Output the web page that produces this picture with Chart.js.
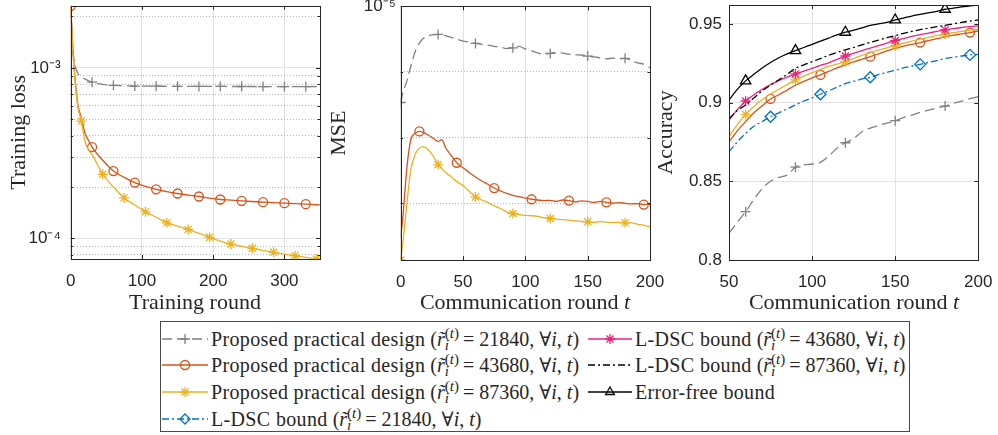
<!DOCTYPE html>
<html>
<head>
<meta charset="utf-8">
<script src="https://cdn.jsdelivr.net/npm/chart.js@4.4.1/dist/chart.umd.min.js"></script>
<style>
  body { margin: 0; background: #fff; width: 998px; height: 435px; overflow: hidden; position: relative;
         font-family: 'Liberation Serif', 'DejaVu Serif', serif; color: #262626; }
  canvas { position: absolute; top: 0; }
  .xt { position: absolute; top: 289px; font-size: 22px; line-height: 26px; transform: translateX(-50%); white-space: nowrap; }
  #legend { position: absolute; left: 160px; top: 321px; width: 750px; height: 111px; box-sizing: border-box;
            border: 1px solid #4a4a4a; background: #fff; }
  .item { position: absolute; height: 26px; line-height: 26px; font-size: 20px; white-space: nowrap; }
  .item svg { position: absolute; left: 0; top: 1px; }
  .item .txt { position: absolute; top: 0; }
  .item .nm { letter-spacing: 0.35px; }
  .ss { display: inline-flex; flex-direction: column; font-size: 15px; line-height: 12px; vertical-align: 8px; margin: 0 4px 0 0; }
</style>
</head>
<body>
<canvas id="lossChart" width="330" height="292" style="left:0px"></canvas>
<canvas id="mseChart" width="346" height="292" style="left:324px"></canvas>
<canvas id="accChart" width="348" height="292" style="left:650px"></canvas>
<div class="xt" style="left:195px">Training round</div>
<div class="xt" style="left:525px">Communication round <i>t</i></div>
<div class="xt" style="left:854px">Communication round <i>t</i></div>
<div id="legend"></div>

<script>
// ---- left panel: training loss (log scale) ----
const trainRounds = [0, 3, 6, 10, 15, 20, 25, 30, 45, 60, 75, 90, 105, 120, 135, 150, 165, 180, 195, 210,
                     225, 240, 255, 270, 285, 300, 315, 330, 345, 350];
const lossP21840 = [2.3e-3, 1.3e-3, 1.04e-3, 9.3e-4, 8.85e-4, 8.6e-4, 8.4e-4, 8.24e-4, 8.0e-4, 7.9e-4,
                    7.85e-4, 7.82e-4, 7.8e-4, 7.8e-4, 7.79e-4, 7.79e-4, 7.78e-4, 7.78e-4, 7.78e-4, 7.78e-4,
                    7.77e-4, 7.77e-4, 7.77e-4, 7.76e-4, 7.76e-4, 7.76e-4, 7.75e-4, 7.75e-4, 7.75e-4, 7.75e-4];
const lossP43680 = [2.3e-3, 1.3e-3, 8.8e-4, 6.1e-4, 5.1e-4, 4.15e-4, 3.75e-4, 3.43e-4, 2.87e-4, 2.48e-4,
                    2.28e-4, 2.125e-4, 2.02e-4, 1.94e-4, 1.88e-4, 1.833e-4, 1.795e-4, 1.76e-4, 1.72e-4, 1.69e-4,
                    1.675e-4, 1.66e-4, 1.645e-4, 1.63e-4, 1.62e-4, 1.608e-4, 1.598e-4, 1.587e-4, 1.575e-4, 1.572e-4];
const lossP87360 = [2.3e-3, 1.25e-3, 8.5e-4, 5.9e-4, 4.87e-4, 3.7e-4, 3.3e-4, 3.1e-4, 2.377e-4, 2.0e-4,
                    1.727e-4, 1.57e-4, 1.431e-4, 1.33e-4, 1.233e-4, 1.18e-4, 1.129e-4, 1.07e-4, 1.014e-4, 9.65e-5,
                    9.26e-5, 8.98e-5, 8.74e-5, 8.5e-5, 8.28e-5, 8.08e-5, 7.91e-5, 7.74e-5, 7.57e-5, 7.55e-5];
const lossXTicks = [0, 100, 200, 300];
const lossYTicks = [8e-5, 9e-5, 1e-4, 2e-4, 3e-4, 4e-4, 5e-4, 6e-4, 7e-4, 8e-4, 9e-4, 1e-3, 2e-3];
const lossYLabels = { '0.0001': '10⁻⁴', '0.001': '10⁻³' };

// ---- middle panel: MSE, values in units of 1e-6 ----
const mseRounds = [0, 2, 5, 8, 12, 15, 18, 22, 26, 30, 33, 36, 40, 45, 50, 55, 60, 65, 70, 75, 80, 85, 90, 95,
                   100, 105, 110, 115, 120, 125, 130, 135, 140, 145, 150, 155, 160, 165, 170, 175, 180, 185, 190, 195, 200];
const mseP21840 = [8.535, 8.7, 8.864, 9.08, 9.33, 9.44, 9.51, 9.55, 9.565, 9.571, 9.565, 9.555, 9.53, 9.5,
                   9.47, 9.455, 9.435, 9.42, 9.41, 9.39, 9.38, 9.356, 9.368, 9.39, 9.35, 9.32, 9.29, 9.27, 9.283,
                   9.3, 9.288, 9.27, 9.26, 9.258, 9.242, 9.23, 9.215, 9.2, 9.21, 9.2, 9.208, 9.17, 9.14, 9.12, 9.065];
const mseP43680 = [6.47, 6.85, 7.55, 7.96, 8.07, 8.095, 8.08, 8.04, 7.99, 7.94, 7.97, 7.85, 7.74, 7.617,
                   7.54, 7.47, 7.4, 7.34, 7.29, 7.232, 7.19, 7.15, 7.12, 7.1, 7.08, 7.061, 7.05, 7.04, 7.045,
                   7.03, 7.05, 7.041, 7.02, 7.035, 7.03, 7.015, 7.03, 7.015, 7.0, 7.01, 7.0, 6.99, 6.995, 6.98, 6.985];
const mseP87360 = [6.136, 6.44, 7.0, 7.5, 7.76, 7.84, 7.864, 7.82, 7.72, 7.586, 7.53, 7.47, 7.41, 7.33,
                   7.27, 7.18, 7.095, 7.05, 7.01, 6.96, 6.92, 6.87, 6.844, 6.83, 6.815, 6.81, 6.8, 6.78, 6.768,
                   6.76, 6.75, 6.742, 6.73, 6.725, 6.717, 6.71, 6.72, 6.712, 6.705, 6.71, 6.702, 6.7, 6.68, 6.665, 6.641];
const mseXTicks = [0, 50, 100, 150, 200];
const mseYTicks = [7, 8, 9, 10];
const mseYLabels = { '10': '10⁻⁵' };

// ---- right panel: accuracy ----
const accRounds = [50, 55, 60, 65, 70, 75, 80, 85, 90, 95, 100, 105, 110, 115, 120, 125, 130, 135, 140, 145,
                   150, 155, 160, 165, 170, 175, 180, 185, 190, 195, 200];
const accP21840 = [.8169, .824, .8307, .8385, .8455, .85, .8525, .854, .859, .8605, .861, .862, .866, .871, .8745,
                   .877, .8815, .8838, .8855, .887, .8885, .8905, .892, .8938, .8952, .8965, .8978, .8995, .901, .9025, .9038];
const accP43680 = [.8751, .882, .8879, .8935, .898, .9023, .905, .908, .911, .9135, .9157, .9176, .9198, .922, .924,
                   .9258, .9275, .9292, .931, .9328, .9345, .9358, .937, .9381, .9394, .9406, .9418, .9428, .9436, .9445, .9455];
const accP87360 = [.8783, .886, .8925, .8975, .902, .9055, .9085, .9115, .9144, .9168, .919, .921, .923, .9245, .926,
                   .928, .93, .9318, .9333, .9348, .9362, .9377, .939, .9403, .9415, .9425, .9434, .9444, .9452, .946, .9466];
const accB21840 = [.8688, .875, .8805, .885, .888, .891, .8935, .896, .8985, .901, .903, .9053, .9075, .9098, .912,
                   .9135, .915, .9161, .9178, .9192, .9205, .922, .9232, .9243, .9255, .9267, .928, .9288, .9296, .9303, .9306];
const accB43680 = [.889, .8955, .901, .905, .9085, .9115, .914, .9162, .9182, .92, .9218, .9236, .9253, .9275, .9296,
                   .9313, .933, .9346, .9362, .9378, .9394, .9407, .942, .9432, .9442, .9452, .9462, .947, .9477, .9482, .9487];
const accB87360 = [.8896, .895, .8985, .903, .9075, .911, .9145, .918, .9218, .924, .926, .928, .93, .9318, .9335,
                   .935, .9367, .9382, .9397, .9412, .9426, .944, .9452, .9463, .9473, .9482, .949, .95, .951, .9518, .9525];
const accErrFree = [.9017, .9084, .9138, .918, .922, .9255, .9285, .931, .933, .935, .937, .939, .941, .943, .9447,
                    .946, .9475, .949, .95, .951, .9525, .9537, .955, .956, .957, .958, .9593, .96, .9608, .9614, .962];
const accXTicks = [50, 100, 150, 200];
const accYTicks = [0.8, 0.85, 0.9, 0.95];

// ---- legend text ----
const seriesNames = ['Proposed practical design', 'Proposed practical design', 'Proposed practical design',
                     'L-DSC bound', 'L-DSC bound', 'L-DSC bound', 'Error-free bound'];
const seriesRates = [21840, 43680, 87360, 21840, 43680, 87360, null];

const AXIS = '#262626';
const GRID = '#e2e2e2';
const MINOR = '#b8b8b8';

const styles = [
  { color: '#808080', dash: [10, 5], point: 'cross', r: 5 },
  { color: '#D95319', dash: [], point: 'circle', r: 4.5 },
  { color: '#EDB120', dash: [], point: 'star', r: 5 },
  { color: '#0072BD', dash: [7, 3, 2, 3], point: 'rectRot', r: 5.5 },
  { color: '#F0207F', dash: [], point: 'star', r: 5 },
  { color: '#000000', dash: [7, 3, 2, 3], point: false, r: 0 },
  { color: '#000000', dash: [], point: 'triangle', r: 6 },
];

Chart.defaults.font.family = "'Liberation Sans', Arial, sans-serif";
Chart.defaults.font.size = 17;
Chart.defaults.color = AXIS;

function series(si, xs, ys, marks, order) {
  const s = styles[si];
  return {
    label: seriesNames[si],
    data: xs.map((x, i) => ({ x: x, y: ys[i] })),
    borderColor: s.color,
    backgroundColor: 'rgba(0,0,0,0)',
    borderDash: s.dash,
    borderWidth: 1.3,
    cubicInterpolationMode: 'monotone',
    pointStyle: s.point,
    pointBorderColor: s.color,
    pointBorderWidth: 1.3,
    pointRadius: ctx => (marks.includes(xs[ctx.dataIndex]) ? s.r : 0),
    order: order,
  };
}

const isMajorLog = v => Math.abs(Math.log10(v) - Math.round(Math.log10(v))) < 1e-9;

// full box + inward ticks, like a matlab axes
const boxPlugin = {
  id: 'box',
  afterDraw(chart) {
    const { ctx, chartArea: a, scales } = chart;
    ctx.save();
    ctx.strokeStyle = AXIS;
    ctx.lineWidth = 1;
    ctx.beginPath();
    scales.x.ticks.forEach(t => {
      const px = Math.round(scales.x.getPixelForValue(t.value)) + 0.5;
      ctx.moveTo(px, a.bottom); ctx.lineTo(px, a.bottom - 4);
      ctx.moveTo(px, a.top); ctx.lineTo(px, a.top + 4);
    });
    scales.y.ticks.forEach(t => {
      const py = Math.round(scales.y.getPixelForValue(t.value)) + 0.5;
      const len = t.minor ? 2.5 : 4;
      ctx.moveTo(a.left, py); ctx.lineTo(a.left + len, py);
      ctx.moveTo(a.right, py); ctx.lineTo(a.right - len, py);
    });
    ctx.stroke();
    ctx.strokeRect(Math.round(a.left) + 0.5, Math.round(a.top) + 0.5,
                   Math.round(a.right - a.left), Math.round(a.bottom - a.top));
    ctx.restore();
  }
};

function panel(geo, xScale, yScale, yTitle) {
  return {
    responsive: false,
    animation: false,
    events: [],
    layout: { padding: { top: 5, right: geo.padRight, left: 0, bottom: 0 } },
    plugins: { legend: { display: false }, tooltip: { enabled: false } },
    scales: {
      x: Object.assign({
        type: 'linear',
        grid: { color: GRID, lineWidth: 1, drawTicks: false },
        border: { display: false },
        ticks: { padding: 12, maxRotation: 0, autoSkip: false },
        afterFit(s) { s.height = geo.xh; s.paddingLeft = 0; s.paddingRight = 0; },
      }, xScale),
      y: Object.assign({
        grid: {
          drawTicks: false,
          color: c => (c.tick && c.tick.minor ? MINOR : GRID),
        },
        border: { display: false, dash: c => (c.tick && c.tick.minor ? [1, 2] : []) },
        title: { display: true, text: yTitle, color: AXIS,
                 font: { family: "'Liberation Serif', serif", size: 22 }, padding: { top: geo.titlePad, bottom: 0 } },
        afterFit(s) { s.width = geo.yw; s.paddingTop = 0; s.paddingBottom = 0; },
      }, yScale),
    },
  };
}

const tickList = (values, minorTest) => values.map(v => ({ value: v, minor: minorTest(v) }));

// left
new Chart(document.getElementById('lossChart'), {
  type: 'line',
  data: { datasets: [
    series(0, trainRounds, lossP21840, [30, 60, 90, 120, 150, 180, 210, 240, 270, 300, 330], 3),
    series(1, trainRounds, lossP43680, [0, 30, 60, 90, 120, 150, 180, 210, 240, 270, 300, 330], 2),
    series(2, trainRounds, lossP87360, [15, 45, 75, 105, 135, 165, 195, 225, 255, 285, 315, 345], 1),
  ] },
  options: panel(
    { padRight: 10, xh: 33, yw: 70.7, titlePad: 6 },
    { min: 0, max: 350, afterBuildTicks: s => { s.ticks = tickList(lossXTicks, () => false); } },
    { type: 'logarithmic', min: 7.57e-5, max: 2.31e-3,
      afterBuildTicks: s => { s.ticks = tickList(lossYTicks, v => !isMajorLog(v)); },
      ticks: { padding: 10, autoSkip: false, callback: v => lossYLabels[String(v)] || '' } },
    'Training loss'),
  plugins: [boxPlugin],
});

// middle
new Chart(document.getElementById('mseChart'), {
  type: 'line',
  data: { datasets: [
    series(0, mseRounds, mseP21840, [0, 30, 60, 90, 120, 150, 180], 3),
    series(1, mseRounds, mseP43680, [15, 45, 75, 105, 135, 165, 195], 2),
    series(2, mseRounds, mseP87360, [0, 30, 60, 90, 120, 150, 180], 1),
  ] },
  options: panel(
    { padRight: 20, xh: 32, yw: 76.7, titlePad: 2 },
    { min: 0, max: 200, afterBuildTicks: s => { s.ticks = tickList(mseXTicks, () => false); } },
    { type: 'linear', min: 6.136, max: 10,
      afterBuildTicks: s => { s.ticks = tickList(mseYTicks, v => v !== 10); },
      ticks: { padding: 5, autoSkip: false, callback: v => mseYLabels[String(v)] || '' } },
    'MSE'),
  plugins: [boxPlugin],
});

// right
const accMarksA = [60, 90, 120, 150, 180];
const accMarksB = [75, 105, 135, 165, 195];
const accChart = new Chart(document.getElementById('accChart'), {
  type: 'line',
  data: { datasets: [
    series(0, accRounds, accP21840, accMarksA, 7),
    series(1, accRounds, accP43680, accMarksB, 6),
    series(2, accRounds, accP87360, accMarksA, 5),
    series(3, accRounds, accB21840, accMarksB, 4),
    series(4, accRounds, accB43680, accMarksA, 3),
    series(5, accRounds, accB87360, [], 2),
    series(6, accRounds, accErrFree, accMarksA, 1),
  ] },
  options: panel(
    { padRight: 19.7, xh: 32, yw: 79, titlePad: 3 },
    { min: 50, max: 200, afterBuildTicks: s => { s.ticks = tickList(accXTicks, () => false); } },
    { type: 'linear', min: 0.8, max: 0.962,
      afterBuildTicks: s => { s.ticks = tickList(accYTicks, () => false); },
      ticks: { padding: 7, autoSkip: false, callback: v => String(v) } },
    'Accuracy'),
  plugins: [boxPlugin],
});

// ---- html legend built from the accuracy chart's datasets ----
function markerSvg(style, cx, cy, r) {
  const d = r * 0.7071;
  switch (style) {
    case 'cross': return `<path d="M${cx - r} ${cy}H${cx + r}M${cx} ${cy - r}V${cy + r}"/>`;
    case 'circle': return `<circle cx="${cx}" cy="${cy}" r="${r}"/>`;
    case 'star': return `<path d="M${cx - r} ${cy}H${cx + r}M${cx} ${cy - r}V${cy + r}M${cx - d} ${cy - d}L${cx + d} ${cy + d}M${cx - d} ${cy + d}L${cx + d} ${cy - d}"/>`;
    case 'rectRot': return `<path d="M${cx} ${cy - r}L${cx + r} ${cy}L${cx} ${cy + r}L${cx - r} ${cy}Z"/>`;
    case 'triangle': {
      const h = r * 0.866;
      return `<path d="M${cx} ${cy - r}L${cx + h} ${cy + r / 2}L${cx - h} ${cy + r / 2}Z"/>`;
    }
    default: return '';
  }
}

function buildLegend(chart) {
  const box = document.getElementById('legend');
  chart.data.datasets.forEach((ds, i) => {
    const col = i < 4 ? 0 : 1;
    const row = i < 4 ? i : i - 4;
    const w = col === 0 ? 46 : 44;
    const sty = styles[i];
    const svg = `<svg width="${w}" height="24" fill="none" stroke="${ds.borderColor}" stroke-width="1.3">` +
      `<line x1="0" y1="12" x2="${w}" y2="12" stroke-dasharray="${ds.borderDash.join(' ')}"/>` +
      markerSvg(ds.pointStyle, w / 2, 12, Math.min(sty.r, 5)) + `</svg>`;
    let text = `<span class="nm">${ds.label}</span>`;
    if (seriesRates[i] !== null) {
      text += ` (<i>r̃</i><span class="ss"><span>(<i>t</i>)</span><span><i>i</i></span></span>= ${seriesRates[i]}, ∀<i>i</i>, <i>t</i>)`;
    }
    const el = document.createElement('div');
    el.className = 'item';
    el.style.left = (col === 0 ? 1 : 427) + 'px';
    el.style.top = (3.5 + row * 26.7) + 'px';
    el.innerHTML = svg + `<span class="txt" style="left:${w + 3}px">` + text + '</span>';
    box.appendChild(el);
  });
}
buildLegend(accChart);
</script>
</body>
</html>
